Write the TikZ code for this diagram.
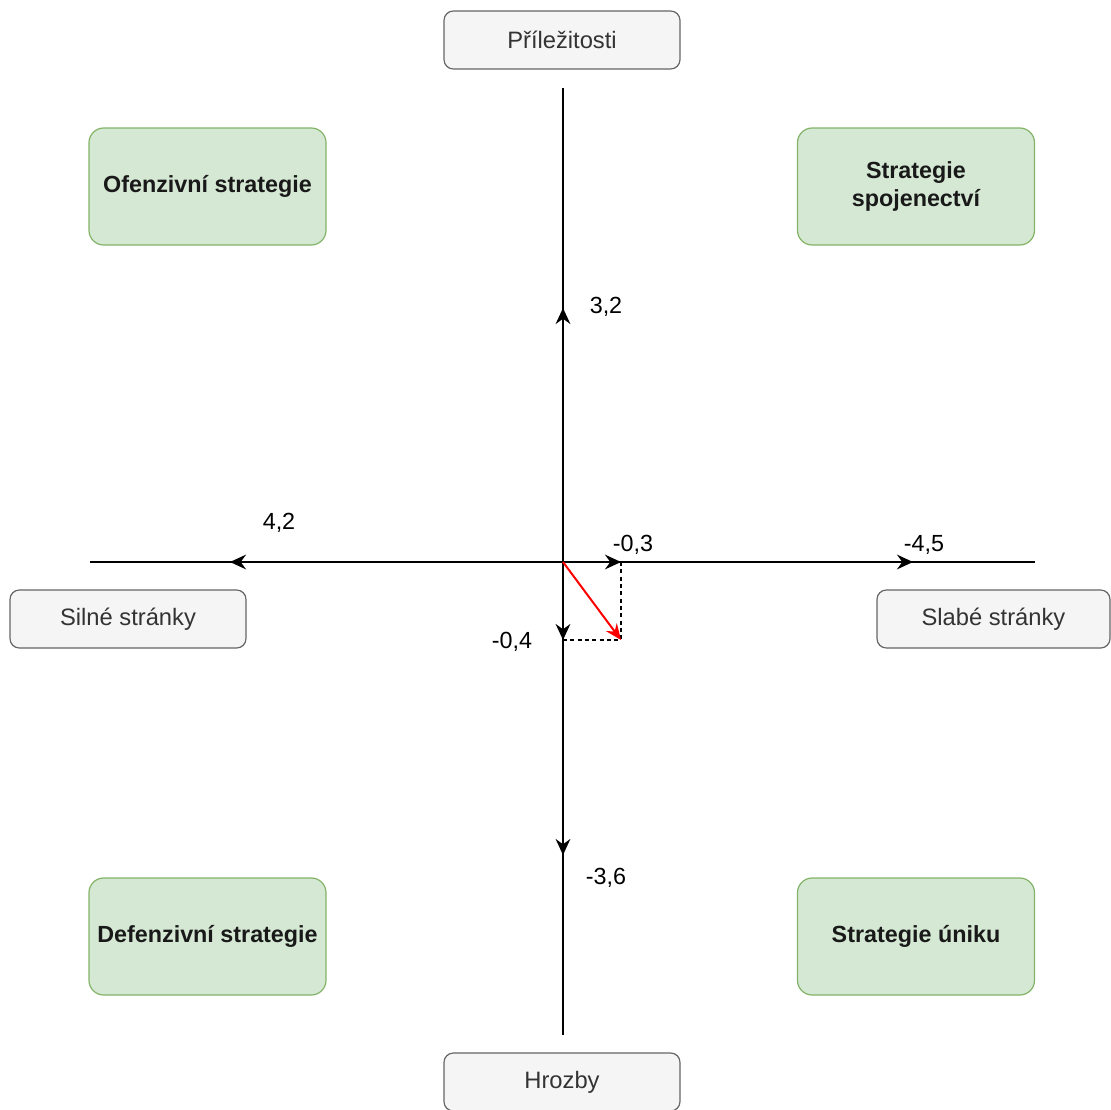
\documentclass[tikz,border=0pt]{standalone}
\usepackage{fontspec}
\setmainfont{Liberation Sans}
\usetikzlibrary{arrows.meta}
\definecolor{gfill}{HTML}{D5E8D4}
\definecolor{gline}{HTML}{82B366}
\definecolor{bfill}{HTML}{F5F5F5}
\definecolor{bline}{HTML}{666666}
\definecolor{btext}{HTML}{333333}
\definecolor{redline}{HTML}{FF0000}
\begin{document}
\begin{tikzpicture}[x=0.75pt,y=-0.75pt,
  labelbox/.style={draw=bline, fill=bfill, text=btext, rounded corners=7pt, minimum width=177pt, minimum height=43.5pt, line width=0.9pt, font=\fontsize{17.8}{21}\selectfont, inner sep=0},
  quadbox/.style={draw=gline, fill=gfill, rounded corners=11pt, minimum width=177.75pt, minimum height=87.75pt, line width=0.9pt, font=\fontsize{17.5}{21}\selectfont\bfseries, align=center, inner sep=0, text=black!90},
  axisline/.style={line width=1.7pt},
  tipline/.style={-{Stealth[length=12pt,width=11pt,inset=4pt]}, line width=1.7pt},
  redarrow/.style={-{Stealth[length=12pt,width=10pt,inset=4pt]}, line width=1.5pt, draw=redline},
  guide/.style={dashed, dash pattern=on 3pt off 2.5pt, line width=1.1pt},
  num/.style={font=\fontsize{17.5}{21}\selectfont, inner sep=0}
]
\useasboundingbox (0,0) rectangle (1111,1110);

% boxes
\node[labelbox] (prilezitosti) at (562,40) {Příležitosti};
\node[labelbox] (hrozby) at (562,1082) {Hrozby};
\node[labelbox] (silne) at (128,619) {Silné stránky};
\node[labelbox, minimum width=174.75pt] (slabe) at (993.5,619) {Slabé stránky};

\node[quadbox] (ofenzivni) at (207.5,186.5) {Ofenzivní strategie};
\node[quadbox] (spojenectvi) at (916,186.5) {Strategie\\spojenectví};
\node[quadbox] (defenzivni) at (207.5,936.5) {Defenzivní strategie};
\node[quadbox] (uniku) at (916,936.5) {Strategie úniku};

% coordinates
\coordinate (O) at (563,562);
\coordinate (vtop) at (563,88);
\coordinate (vbot) at (563,1035);
\coordinate (hleft) at (90,562);
\coordinate (hright) at (1035,562);
\coordinate (tup) at (563,308);
\coordinate (tdown) at (563,855);
\coordinate (tleft) at (230,562);
\coordinate (tright) at (913,562);
\coordinate (sx) at (621,562);
\coordinate (sy) at (563,640);
\coordinate (P) at (621,640);

% axes
\draw[axisline] (vtop) -- (vbot);
\draw[axisline] (hleft) -- (hright);

% arrows
\draw[tipline] (O) -- (tup);
\draw[tipline] (O) -- (tdown);
\draw[tipline] (O) -- (tleft);
\draw[tipline] (O) -- (tright);
\draw[tipline] (O) -- (sx);
\draw[tipline] (O) -- (sy);

% dashed guides
\draw[guide] (sx) -- (P);
\draw[guide] (sy) -- (P);

% resulting vector
\draw[redarrow] (O) -- (P);

% labels
\node[num] (l32) at (606,307) {3,2};
\node[num] (l36) at (606,878) {-3,6};
\node[num] (l42) at (279,523) {4,2};
\node[num] (l03) at (633,545) {-0,3};
\node[num] (l04) at (512,642) {-0,4};
\node[num] (l45) at (924,545) {-4,5};
\end{tikzpicture}
\end{document}
